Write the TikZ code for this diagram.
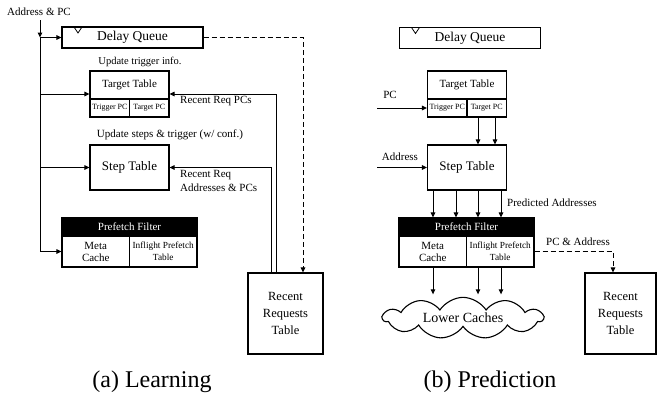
\documentclass[tikz,border=0pt]{standalone}
\usepackage{fontspec}
\setmainfont{Liberation Serif}
\newfontfamily\timesfont{Liberation Serif}
\usetikzlibrary{arrows.meta, shapes.symbols}
\tikzset{
  tbl/.style={draw, line width=1.1pt, inner sep=0pt, align=center},
  cell/.style={tbl, font=\timesfont\fontsize{8}{9}\selectfont},
  head/.style={tbl, fill=black, text=white, font=\timesfont\fontsize{11}{12}\selectfont},
  lbl/.style={inner sep=0pt, align=left, font=\timesfont\fontsize{11}{14}\selectfont},
  link/.style={-{Triangle[length=5pt, width=4.5pt]}, line width=1pt},
  dlink/.style={link, dash pattern=on 5pt off 3pt},
  steptbl/.style={tbl, minimum width=79pt, minimum height=45pt, font=\timesfont\fontsize{13}{14}\selectfont},
  reqtable/.style={tbl, minimum width=75pt, minimum height=81pt, font=\timesfont\fontsize{12.5}{17}\selectfont},
  caption/.style={inner sep=0pt, font=\timesfont\fontsize{24}{26}\selectfont}
}
% delay queue box with the small marker at its top left
\newcommand{\delayqueue}[3]{%
  \begin{scope}[shift={(#1,#2)}]
    \node[tbl, minimum width=141pt, minimum height=21pt, font=\timesfont\fontsize{13.5}{14}\selectfont] (#3) at (0,0) {Delay Queue};
    \draw[line width=0.8pt] (-58.5,-10.5) -- (-54.5,-4.5) -- (-50.5,-10.5);
  \end{scope}
}
\newcommand{\targettable}[3]{%
  \begin{scope}[shift={(#1,#2)}]
    \node[tbl, minimum width=79pt, minimum height=46pt] (#3) at (0,0) {};
    \node[font=\timesfont\fontsize{11}{12}\selectfont] (#3-name) at (0,-9) {Target Table};
    \node[cell, minimum width=39.5pt, minimum height=18pt] (#3-trig) at (-19.75,14) {Trigger PC};
    \node[cell, minimum width=39.5pt, minimum height=18pt] (#3-tgt) at (19.75,14) {Target PC};
  \end{scope}
}
\newcommand{\prefetchfilter}[3]{%
  \begin{scope}[shift={(#1,#2)}]
    \node[tbl, minimum width=135pt, minimum height=49pt] (#3) at (0,0) {};
    \node[head, minimum width=135pt, minimum height=18pt] (#3-head) at (0,-15.5) {Prefetch Filter};
    \node[tbl, minimum width=67.5pt, minimum height=31pt, font=\timesfont\fontsize{11}{12}\selectfont] (#3-meta) at (-33.75,9) {Meta\\Cache};
    \node[tbl, minimum width=67.5pt, minimum height=31pt, font=\timesfont\fontsize{9.3}{11.5}\selectfont] (#3-inf) at (33.75,9) {Inflight Prefetch\\Table};
  \end{scope}
}

\begin{document}
\begin{tikzpicture}[x=1pt, y=-1pt]
  \useasboundingbox (0,0) rectangle (658,397);

  % Learning side
  \node[lbl] (laddr) at (39,12) {Address \& PC};
  \delayqueue{132.5}{37.5}{ldq}
  \targettable{129.5}{94}{ltt}
  \node[steptbl] (lst) at (129.5,167.5) {Step Table};
  \prefetchfilter{129.5}{242.5}{lpf}
  \node[reqtable] (lrr) at (285.5,313.5) {Recent\\Requests\\Table};

  \node[lbl, font=\timesfont\fontsize{10.5}{12}\selectfont] (lupd1) at (140,62) {Update trigger info.};
  \node[lbl, anchor=west] (lrpc) at (180,101) {Recent Req PCs};
  \node[lbl] (lupd2) at (170,135) {Update steps \& trigger (w/ conf.)};
  \node[lbl, anchor=west] (lraddr) at (180,181) {Recent Req\\Addresses \& PCs};

  \coordinate (ltop) at (40,20);
  \coordinate (ljoin) at (40,37.5);
  \draw[link] (ltop) -- (ljoin);
  \draw[link] (ljoin) -- (ldq.west);
  \draw[link] (ljoin |- ltt.west) -- (ltt.west);
  \draw[link] (ljoin |- lst.west) -- (lst.west);
  \draw[link] (ljoin) |- (lpf-meta.west);

  \draw[link] ([xshift=-9.5pt]lrr.north) |- (ltt.east);
  \draw[link] ([xshift=-14.5pt]lrr.north) |- (lst.east);
  \draw[dlink] (ldq.east) -| ([xshift=17.5pt]lrr.north);

  % Prediction side
  \delayqueue{470}{38}{rdq}
  \targettable{467}{94}{rtt}
  \node[steptbl] (rst) at (467,167.5) {Step Table};
  \prefetchfilter{466.5}{242.5}{rpf}
  \node[reqtable, minimum width=71pt] (rrr) at (620.5,313.5) {Recent\\Requests\\Table};
  \node[cloud, draw, line width=1.1pt, cloud puffs=11, cloud puff arc=115, aspect=4.6,
        minimum width=160pt, minimum height=36pt, inner sep=0pt, outer sep=3pt,
        font=\timesfont\fontsize{14}{14}\selectfont] (rlc) at (463,318) {Lower Caches};

  \node[lbl] (rpclbl) at (390,95) {PC};
  \coordinate (rpcin) at (377,108);
  \draw[link] (rpcin) -- (rtt-trig.west);
  \node[lbl] (raddrlbl) at (400,157) {Address};
  \coordinate (raddrin) at (377,167.5);
  \draw[link] (raddrin) -- (rst.west);

  \foreach \x in {478,495}
    \draw[link] (\x,0 |- rtt.south) -- (\x,0 |- rst.north);
  \foreach \x in {433,456,478,501}
    \draw[link] (\x,0 |- rst.south) -- (\x,0 |- rpf.north);
  \node[lbl, anchor=west] (rpred) at (507,203) {Predicted Addresses};
  \foreach \x in {433,478,501}
    \draw[link] (\x,0 |- rpf.south) -- (\x,0 |- rlc.north);

  \draw[dlink] (rpf-inf.east) -| ([xshift=-7.5pt]rrr.north);
  \node[lbl] (rpcaddr) at (578,242) {PC \& Address};

  % captions
  \node[caption] (capa) at (152,382) {(a) Learning};
  \node[caption] (capb) at (490,382) {(b) Prediction};
\end{tikzpicture}
\end{document}
